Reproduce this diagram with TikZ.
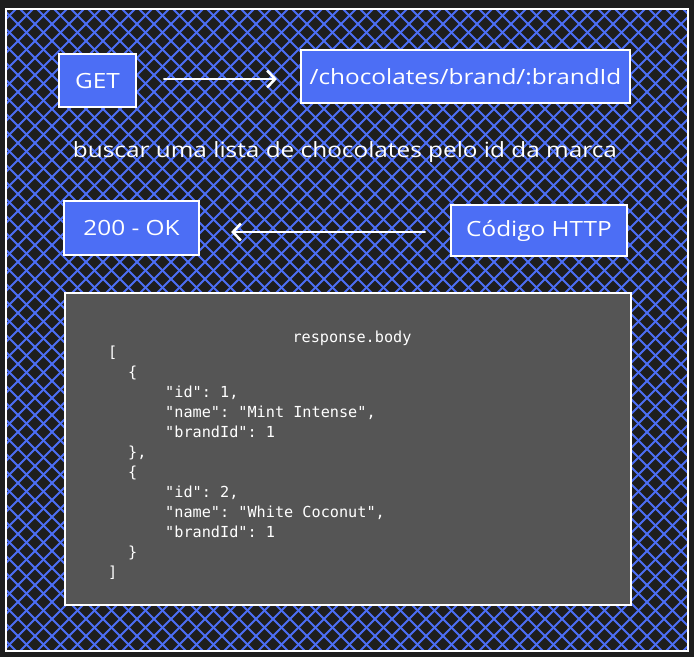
\documentclass[tikz,border=0pt]{standalone}
\usepackage{fontspec}
\setmainfont{Open Sans}[FakeStretch=1.16]
\setmonofont{DejaVu Sans Mono}
\usetikzlibrary{arrows.meta}
\definecolor{bgdark}{HTML}{1E1E1E}
\definecolor{exblue}{HTML}{4C6EF5}
\definecolor{codegray}{HTML}{555555}
\tikzset{
  bluebox/.style={draw=white, line width=2.2pt, fill=exblue, text=white,
    font=\fontsize{21}{21}\selectfont, inner sep=0pt},
  arr/.style={draw=white, line width=2.6pt, line cap=round,
    -{Straight Barb[length=8pt,width=17pt,line width=2.6pt]}},
  codeline/.style={anchor=base west, text=white, inner sep=0pt,
    font=\ttfamily\fontsize{15.2}{15.2}\selectfont},
  hatch/.style={draw=exblue, line width=1.9pt},
}
\begin{document}
\begin{tikzpicture}[x=1pt,y=-1pt]
\useasboundingbox (0,0) rectangle (694,657);
\fill[bgdark] (0,0) rectangle (694,657);
% hatching inside frame
\begin{scope}
\clip (6,9) rectangle (688,651);
\foreach \i in {-660,-643,...,700} {
  \draw[hatch] (\i,9) -- ++(642,642);
  \draw[hatch] (\i,651) -- ++(642,-642);
}
\end{scope}
\draw[white, line width=2.6pt] (6,9) rectangle (688,651);

% boxes
\node[bluebox, minimum width=77pt, minimum height=53pt] (get) at (97.5,80.5) {GET};
\node[bluebox, minimum width=329pt, minimum height=53pt] (path) at (465.5,76.5) {/chocolates/brand/:brandId};
\node[bluebox, minimum width=135pt, minimum height=54pt] (ok) at (131.5,228) {200 - OK};
\node[bluebox, minimum width=176pt, minimum height=51pt] (http) at (539,230.5) {Código HTTP};

\node[text=white, inner sep=0pt, font=\fontsize{21}{21}\selectfont] (desc) at (345,152)
  {buscar uma lista de chocolates pelo id da marca};

% arrows
\draw[arr, shorten <=27pt, shorten >=23pt] (get.east |- 0,79) -- (path.west |- 0,79);
\draw[arr, shorten <=25pt, shorten >=31pt] (http.west |- 0,232) -- (ok.east |- 0,232);

% code box
\node[draw=white, line width=2.4pt, fill=codegray, minimum width=566pt,
  minimum height=312pt, inner sep=0pt] (code) at (348,449) {};
\node[text=white, inner sep=0pt, anchor=base,
  font=\ttfamily\fontsize{15.2}{15.2}\selectfont] (title) at (352,342) {response.body};
\node[codeline] (c1) at (108,357) {[};
\node[codeline] (c2) at (128,377) {\{};
\node[codeline] (c3) at (165,397) {"id": 1,};
\node[codeline] (c4) at (165,417) {"name": "Mint Intense",};
\node[codeline] (c5) at (165,437) {"brandId": 1};
\node[codeline] (c6) at (128,457) {\},};
\node[codeline] (c7) at (128,477) {\{};
\node[codeline] (c8) at (165,497) {"id": 2,};
\node[codeline] (c9) at (165,517) {"name": "White Coconut",};
\node[codeline] (c10) at (165,537) {"brandId": 1};
\node[codeline] (c11) at (128,557) {\}};
\node[codeline] (c12) at (108,577) {]};
\end{tikzpicture}
\end{document}
